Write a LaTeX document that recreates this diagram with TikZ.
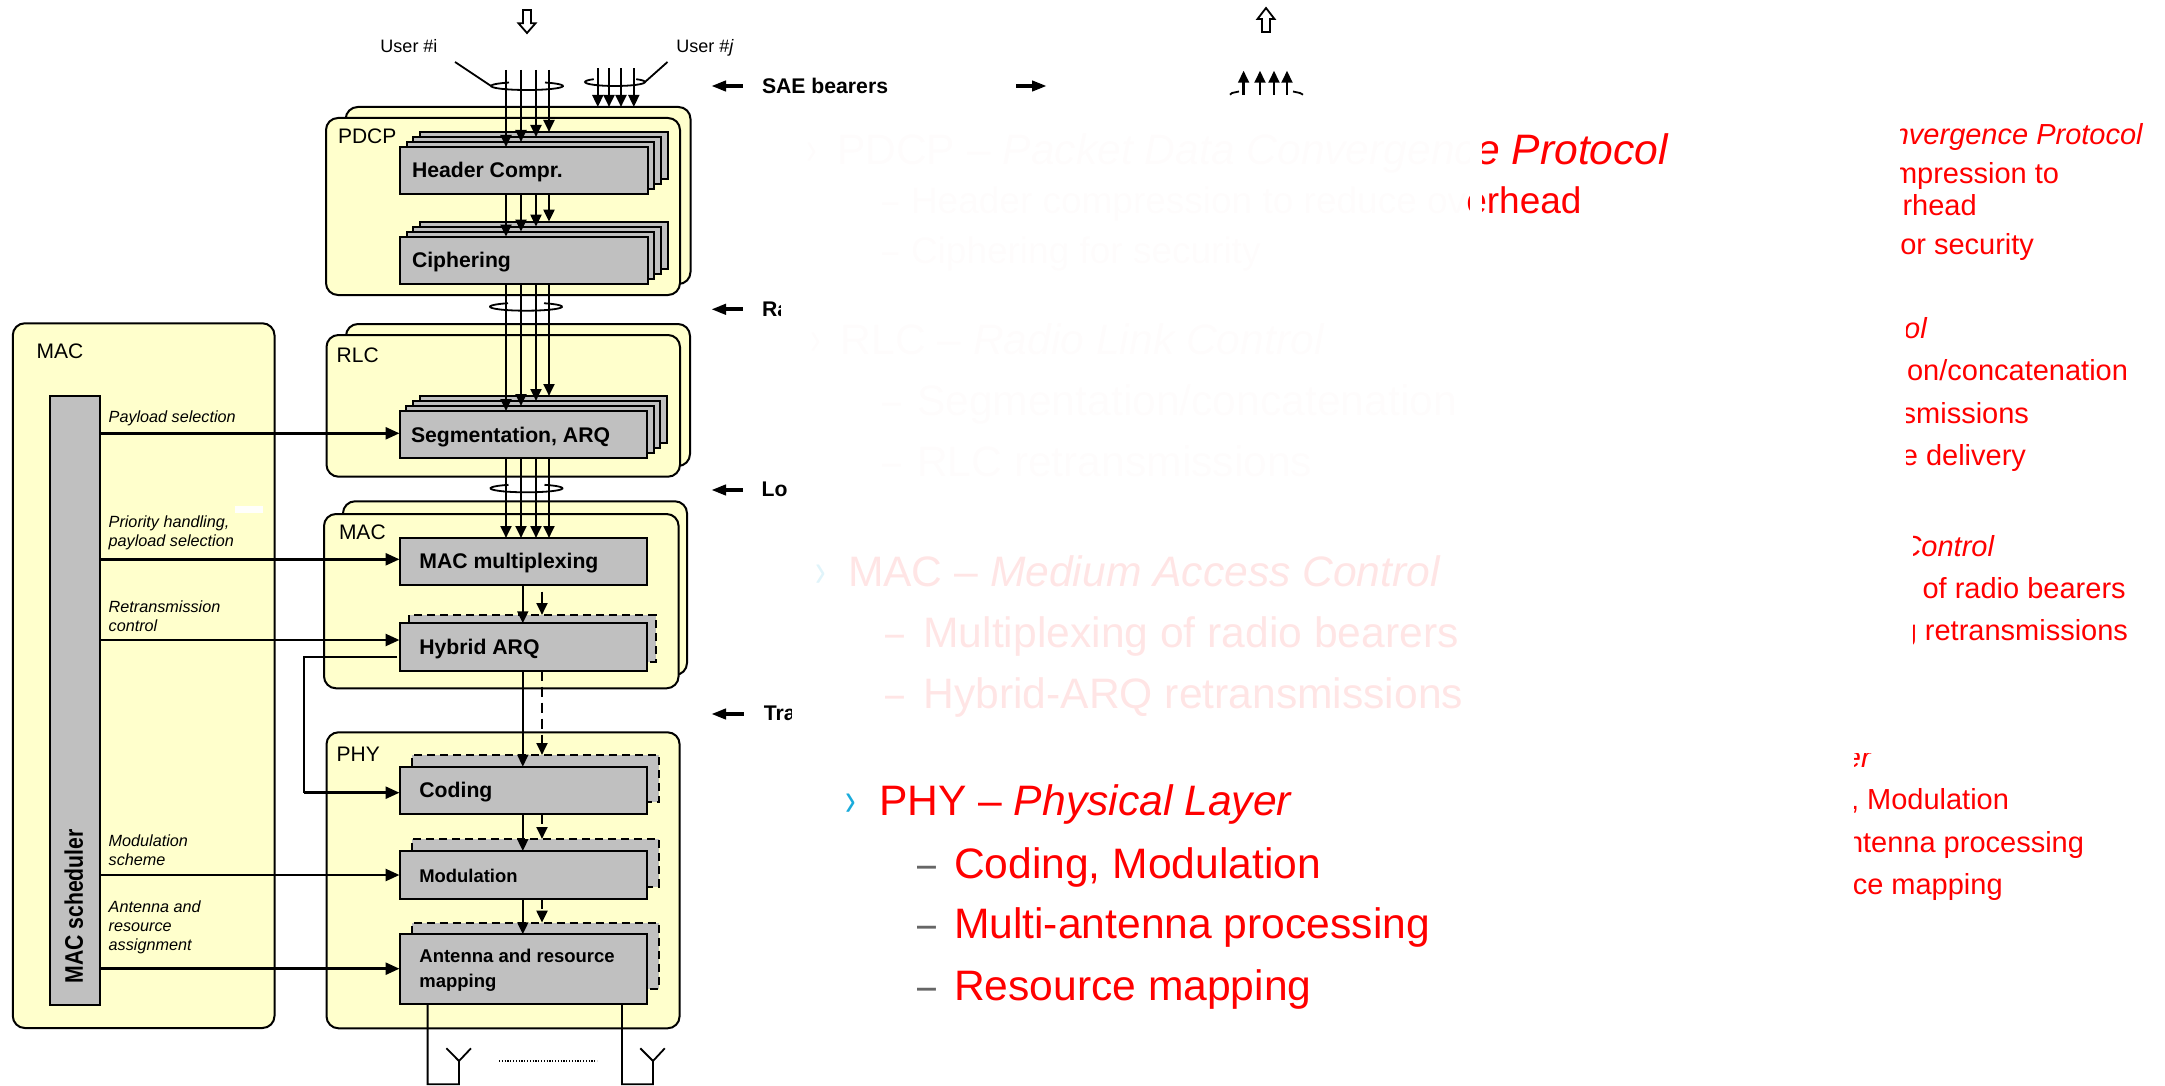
\documentclass[tikz,border=0pt]{standalone}
\usepackage{fontspec}
\usepackage{graphicx}
\setmainfont{Liberation Sans}
\usetikzlibrary{arrows.meta,shapes.geometric}
\definecolor{panelyellow}{HTML}{FFFFCC}
\definecolor{boxgray}{HTML}{C0C0C0}
\definecolor{faintA}{HTML}{FEFCFC}
\definecolor{faintB}{HTML}{FFE5E5}
\definecolor{faintC}{HTML}{E0F4FA}
\definecolor{bulletblue}{HTML}{1AABDB}
\definecolor{dashgray}{HTML}{666666}
\newcommand{\bx}[6]{%
  \pgfmathsetmacro\bxw{((#5)-(#3))*0.5}\pgfmathsetmacro\bxh{((#6)-(#4))*0.5}%
  \node[#1,minimum width=\bxw pt,minimum height=\bxh pt] (#2) at (#3,#4) {};}
\newcommand{\stackbx}[5]{%
  \bx{graybox}{#1c}{#2+20.1}{#3-15}{#4+20.1}{#5-15}
  \bx{graybox}{#1b}{#2+13.4}{#3-10}{#4+13.4}{#5-10}
  \bx{graybox}{#1a}{#2+6.7}{#3-5}{#4+6.7}{#5-5}
  \bx{graybox}{#1}{#2}{#3}{#4}{#5}}
\newcommand{\fs}[1]{\fontsize{#1}{#1}\selectfont}
\newcommand{\ringarc}[4]{% node, rx in pt, start, end
  \draw[wire] (#1.center) ++(#3:#2 and 2pt) arc[start angle=#3,end angle=#4,x radius=#2,y radius=2pt];}
\newcommand{\shortdash}{\scalebox{.8}[1]{–}}
\newcommand{\thinbullet}{\scalebox{.75}[1.1]{›}}
\tikzset{
  panel/.style={draw=black,fill=panelyellow,line width=1pt,rounded corners=6pt,anchor=north west,inner sep=0pt,outer sep=0pt},
  graybox/.style={draw=black,fill=boxgray,line width=1pt,anchor=north west,inner sep=0pt,outer sep=0pt},
  ghostfill/.style={fill=boxgray,draw=none,anchor=north west,inner sep=0pt,outer sep=0pt},
  ghostedge/.style={draw=black,line width=1pt,dash pattern=on 4pt off 2.5pt},
  flow/.style={draw=black,line width=1.2pt,-{Triangle[length=6pt,width=5.4pt]}},
  flowdash/.style={draw=black,line width=1.2pt,dash pattern=on 5pt off 3pt,-{Triangle[length=6pt,width=5.4pt]}},
  ctl/.style={draw=black,line width=1.3pt,-{Triangle[length=7pt,width=6pt]}},
  ptr/.style={draw=black,line width=2pt,-{Triangle[length=7.5pt,width=5pt]}},
  wire/.style={draw=black,line width=.9pt},
  ring/.style={ellipse,draw=none,minimum width=36pt,minimum height=4pt,inner sep=0pt,outer sep=0pt},
  hollow/.style={draw=black,line width=.9pt,fill=white,line join=miter},
  boxlabel/.style={font=\fs{10.6}\bfseries,anchor=base west,inner sep=0pt,outer sep=0pt},
  boxlabelsm/.style={font=\fs{9.2}\bfseries,anchor=base west,inner sep=0pt,outer sep=0pt},
  layerlabel/.style={font=\fs{10.5},anchor=base west,inner sep=0pt,outer sep=0pt},
  biglabel/.style={font=\fs{10.6}\bfseries,anchor=base west,inner sep=0pt,outer sep=0pt},
  sched/.style={font=\fs{8.1}\itshape,anchor=west,align=left,inner sep=0pt,outer sep=0pt},
  userlabel/.style={font=\fs{9},anchor=base,inner sep=0pt,outer sep=0pt},
  listtext/.style={font=\fs{21.3},anchor=base west,inner sep=0pt,outer sep=0pt},
  listsmall/.style={font=\fs{18.5},anchor=base west,inner sep=0pt,outer sep=0pt},
  rtext/.style={font=\fs{14.5},text=red,anchor=base east,inner sep=0pt,outer sep=0pt},
}
\begin{document}
\begin{tikzpicture}[x=0.5pt,y=-0.5pt]
\useasboundingbox (0,0) rectangle (2165,1086);

% ---- panels
\bx{panel}{macleft}{12.8}{323.3}{274.5}{1028}
\bx{panel}{pdcpback}{345.7}{107}{690.5}{284}
\bx{panel}{pdcp}{326}{118}{680}{295}
\bx{panel}{rlcback}{346}{324}{690}{466}
\bx{panel}{rlc}{326.5}{335}{680}{476.7}
\bx{panel}{macback}{343}{501.3}{687}{675}
\bx{panel}{mac}{324}{514}{678.6}{688.3}
\bx{panel}{phy}{326.5}{732.3}{679.6}{1028.3}
\fill[white!95!panelyellow] (235,505.7) rectangle (263,513);

\node[layerlabel] (lmacl) at (36.7,358.3) {MAC};
\node[layerlabel] (lpdcp) at (338,143.3) {PDCP};
\node[layerlabel] (lrlc) at (336.7,362.7) {RLC};
\node[layerlabel] (lmac) at (339,539.3) {MAC};
\node[layerlabel] (lphy) at (336.7,761.7) {PHY};

% ---- scheduler
\bx{graybox}{sch}{50}{396}{100}{1005}
\node[font=\fs{10.6}\bfseries,rotate=90,anchor=base west,inner sep=0pt] (schl) at (83,984) {\scalebox{1}[1.2]{MAC scheduler}};

% ---- stacks
\stackbx{hdr}{400}{147}{647.6}{194}
\stackbx{cip}{400}{236.7}{647.6}{283.7}
\stackbx{seg}{399.5}{411}{647}{458.3}

% ---- ghost boxes
\bx{ghostfill}{harqg}{409}{615}{655.6}{661.7}
\draw[ghostedge] (409,623) -- (409,615) -- (655.6,615) -- (655.6,661.7) -- (647,661.7);
\bx{ghostfill}{codg}{412}{755}{658.7}{802.3}
\draw[ghostedge] (412,766) -- (412,755) -- (658.7,755) -- (658.7,802.3) -- (647,802.3);
\bx{ghostfill}{modg}{412}{839}{658.7}{886.7}
\draw[ghostedge] (412,851) -- (412,839) -- (658.7,839) -- (658.7,886.7) -- (647,886.7);
\bx{ghostfill}{antg}{412}{922.7}{658.7}{989}
\draw[ghostedge] (412,934) -- (412,922.7) -- (658.7,922.7) -- (658.7,989) -- (647,989);

% ---- main boxes
\bx{graybox}{mux}{399.5}{538}{647}{585}
\bx{graybox}{harq}{399.5}{623.3}{647}{670.7}
\bx{graybox}{cod}{399.5}{766.7}{647}{814}
\bx{graybox}{modu}{399.5}{851}{647}{898.7}
\bx{graybox}{ant}{399.5}{934.3}{647}{1004}

\node[boxlabel] (thdr) at (412,177.7) {Header Compr.};
\node[boxlabel] (tcip) at (412,267) {Ciphering};
\node[boxlabel] (tseg) at (411,442.7) {Segmentation, ARQ};
\node[boxlabel] (tmux) at (419.4,568.3) {MAC multiplexing};
\node[boxlabel] (tharq) at (419.4,654.3) {Hybrid ARQ};
\node[boxlabel] (tcod) at (419.4,797.7) {Coding};
\node[boxlabelsm] (tmod) at (419.4,882.7) {Modulation};
\node[boxlabelsm,anchor=west,align=left,font=\fs{9.25}\bfseries] (tant) at (419.4,970.5) {Antenna and resource\\[3.1pt]mapping};

% ---- bearers
\coordinate (b1) at (506,70);
\coordinate (b2) at (521,70);
\coordinate (b3) at (536,70);
\coordinate (b4) at (549,70);
\draw[flow] (b1) -- (b1 |- hdr.north);
\draw[flow] (b2) -- (b2 |- hdra.north);
\draw[flow] (b3) -- (b3 |- hdrb.north);
\draw[flow] (b4) -- (b4 |- hdrc.north);
\draw[flow] (b1 |- hdr.south) -- (b1 |- cip.north);
\draw[flow] (b2 |- hdr.south) -- (b2 |- cipa.north);
\draw[flow] (b3 |- hdr.south) -- (b3 |- cipb.north);
\draw[flow] (b4 |- hdr.south) -- (b4 |- cipc.north);
\draw[flow] (b1 |- cip.south) -- (b1 |- seg.north);
\draw[flow] (b2 |- cip.south) -- (b2 |- sega.north);
\draw[flow] (b3 |- cip.south) -- (b3 |- segb.north);
\draw[flow] (b4 |- cip.south) -- (b4 |- segc.north);
\draw[flow] (b1 |- seg.south) -- (b1 |- mux.north);
\draw[flow] (b2 |- seg.south) -- (b2 |- mux.north);
\draw[flow] (b3 |- seg.south) -- (b3 |- mux.north);
\draw[flow] (b4 |- seg.south) -- (b4 |- mux.north);

\coordinate (r1) at (597.8,68.5);
\coordinate (r2) at (609,68.5);
\coordinate (r3) at (621,68.5);
\coordinate (r4) at (633.8,68.5);
\draw[flow] (r1) -- (r1 |- pdcpback.north);
\draw[flow] (r2) -- (r2 |- pdcpback.north);
\draw[flow] (r3) -- (r3 |- pdcpback.north);
\draw[flow] (r4) -- (r4 |- pdcpback.north);

\node[ring] (ringi) at (527,86) {};
\node[ring,minimum width=30pt] (ringj) at (615,82) {};
\node[ring] (ringra) at (526,306.7) {};
\node[ring] (ringlo) at (526.5,488.3) {};
\ringarc{ringi}{18pt}{120}{420}
\ringarc{ringj}{15pt}{135}{405}
\ringarc{ringra}{18pt}{120}{420}
\ringarc{ringlo}{18pt}{120}{420}

\coordinate (ui) at (455,62);
\coordinate (uj) at (667.5,62);
\draw[wire] (ui) -- (ringi.west);
\draw[wire] (uj) -- (ringj.east);
\node[userlabel] (tui) at (409,52.7) {User \#i};
\node[userlabel] (tuj) at (705,52.7) {User \#\textit{j}};

% ---- layer-to-layer arrows
\coordinate (s1) at (522.8,0);
\coordinate (s2) at (542,0);
\draw[flow] (s1 |- mux.south) -- (s1 |- harq.north);
\draw[flow] (s2 |- 0,591.7) -- (s2 |- harqg.north);
\draw[flow] (s1 |- harq.south) -- (s1 |- cod.north);
\draw[flowdash] (s2 |- harq.south) -- (s2 |- codg.north);
\draw[flow] (s1 |- cod.south) -- (s1 |- modu.north);
\draw[flowdash] (s2 |- cod.south) -- (s2 |- modg.north);
\draw[flow] (s1 |- modu.south) -- (s1 |- ant.north);
\draw[flowdash] (s2 |- modu.south) -- (s2 |- antg.north);

% ---- scheduler control
\draw[ctl] (sch.east |- 0,433.3) -- (seg.west |- 0,433.3);
\draw[ctl] (sch.east |- 0,559.3) -- (mux.west |- 0,559.3);
\draw[ctl] (sch.east |- 0,640) -- (harq.west |- 0,640);
\draw[ctl] (sch.east |- 0,875) -- (modu.west |- 0,875);
\draw[ctl] (sch.east |- 0,968.7) -- (ant.west |- 0,968.7);
\coordinate (sideA) at (397.4,656.7);
\coordinate (sideB) at (399.5,792.7);
\draw[wire] (sideA) -- (304,656.7) -- (304,792.7);
\draw[ctl] (304,792.7) -- (sideB);

\node[sched] (c1) at (108.7,418.7) {Payload selection};
\node[sched] (c2) at (108.7,532.5) {Priority handling,\\[1.55pt]payload selection};
\node[sched] (c3) at (108.7,616.5) {Retransmission\\[1.55pt]control};
\node[sched] (c4) at (108.7,850.5) {Modulation\\[1.55pt]scheme};
\node[sched] (c5) at (108.7,927.5) {Antenna and\\[1.55pt]resource\\[1.55pt]assignment};

% ---- antennas
\coordinate (a1) at (427.6,1084.3);
\coordinate (a2) at (459,1084.3);
\coordinate (a3) at (459,1061);
\coordinate (a4) at (622,1084.3);
\coordinate (a5) at (653,1084.3);
\coordinate (a6) at (653,1061);
\draw[wire] (a1 |- ant.south) -- (a1) -- (a2) -- (a3) -- (446.4,1048.3);
\draw[wire] (a3) -- (471,1048.3);
\draw[wire] (a4 |- ant.south) -- (a4) -- (a5) -- (a6) -- (640.3,1048.3);
\draw[wire] (a6) -- (664.8,1048.3);
\draw[line width=1.3pt,dash pattern=on .6pt off .8pt] (499,1061) -- (597,1061);

% ---- hollow arrows
\draw[hollow] (523,10) -- (531,10) -- (531,23.3) -- (535.5,23.3) -- (527,33) -- (518.5,23.3) -- (523,23.3) -- cycle;
\draw[hollow] (1262,32) -- (1270,32) -- (1270,19) -- (1274.5,19) -- (1266,8) -- (1257.5,19) -- (1262,19) -- cycle;

% ---- channel labels
\coordinate (p1) at (742.6,86);
\coordinate (p1t) at (711,86);
\draw[ptr] (p1) -- (p1t);
\coordinate (p2) at (1016,86);
\coordinate (p2t) at (1047,86);
\draw[ptr] (p2) -- (p2t);
\coordinate (p3) at (742.6,309.3);
\coordinate (p3t) at (711,309.3);
\draw[ptr] (p3) -- (p3t);
\coordinate (p4) at (742.6,490);
\coordinate (p4t) at (711,490);
\draw[ptr] (p4) -- (p4t);
\coordinate (p5) at (743.5,714);
\coordinate (p5t) at (711,714);
\draw[ptr] (p5) -- (p5t);
\node[biglabel] (tsae) at (762,93.3) {SAE bearers};
\begin{scope}
\clip (750,290) rectangle (780,330);
\node[biglabel] (tra) at (762,316) {Ra};
\end{scope}
\begin{scope}
\clip (750,470) rectangle (786,510);
\node[biglabel] (tlo) at (761.7,496.7) {Lo};
\end{scope}
\begin{scope}
\clip (750,695) rectangle (791,735);
\node[biglabel] (ttr) at (763.8,720.7) {Tra};
\end{scope}

% ---- up-going bearers (cut off)
\coordinate (u1) at (1243.6,70.7);
\coordinate (u2) at (1260,70.7);
\coordinate (u3) at (1274,70.7);
\coordinate (u4) at (1287,70.7);
\draw[flow] (u1 |- 0,94.7) -- (u1);
\draw[flow] (u2 |- 0,94.7) -- (u2);
\draw[flow] (u3 |- 0,94.7) -- (u3);
\draw[flow] (u4 |- 0,94.7) -- (u4);
\draw[wire] (1230,94.7) -- (1232,93) -- (1239,91.5);
\draw[wire] (1303,94.7) -- (1300,93) -- (1293,91.5);

% ---- faded list, left
\node[listtext,text=faintA] (bpdcp) at (806,164.3) {\thinbullet};
\node[listtext] (lp) at (837,164.3) {{\color{faintA}PDCP – \itshape Packet Data Convergenc}{\color{red}\itshape e Protocol}};
\node[listsmall,text=faintA] (dp1) at (882,213.3) {\shortdash};
\node[listsmall] (lp1) at (911,213.3) {{\color{faintA}Header compression to reduce ov}{\color{red}erhead}};
\node[listsmall,text=faintA] (dp2) at (882,263.3) {\shortdash};
\node[listsmall,text=faintA] (lp2) at (911,263.3) {Ciphering for security};
\fill[white] (1470,125) rectangle (1481.5,172);
\fill[white] (1470,178) rectangle (1481.5,225);
\node[listtext,text=faintA] (brlc) at (810,354) {\thinbullet};
\node[listtext,text=faintA] (lr) at (840.6,354) {RLC – \itshape Radio Link Control};
\node[listtext,text=faintA] (dr1) at (882,415) {\shortdash};
\node[listtext,text=faintA] (lr1) at (917,415) {Segmentation/concatenation};
\node[listtext,text=faintA] (dr2) at (882,476.7) {\shortdash};
\node[listtext,text=faintA] (lr2) at (917,476.7) {RLC retransmissions};
\node[listtext,text=faintC] (bmac) at (815,586) {\thinbullet};
\node[listtext,text=faintB] (lm) at (848,586) {MAC – \itshape Medium Access Control};
\node[listtext,text=faintB] (dm1) at (885,647.3) {\shortdash};
\node[listtext,text=faintB] (lm1) at (923.5,647.3) {Multiplexing of radio bearers};
\node[listtext,text=faintB] (dm2) at (885,708.3) {\shortdash};
\node[listtext,text=faintB] (lm2) at (923.5,708.3) {Hybrid-ARQ retransmissions};
\node[listtext,text=bulletblue] (bphy) at (845,815) {\thinbullet};
\node[listtext,text=red] (lf) at (879,815) {PHY – \itshape Physical Layer};
\node[listtext,text=dashgray] (df1) at (917,878) {\shortdash};
\node[listtext,text=red] (lf1) at (954,878) {Coding, Modulation};
\node[listtext,text=dashgray] (df2) at (917,938.5) {\shortdash};
\node[listtext,text=red] (lf2) at (954,938.5) {Multi-antenna processing};
\node[listtext,text=dashgray] (df3) at (917,1000) {\shortdash};
\node[listtext,text=red] (lf3) at (954,1000) {Resource mapping};

% ---- list, right (cut off)
\begin{scope}
\clip (1900.7,100) rectangle (2165,300);
\node[rtext,font=\fs{14.5}\itshape] (x1) at (2142.7,144.3) {nvergence Protocol};
\node[rtext] (x2) at (2059,183.7) {mpression to};
\node[rtext] (x3) at (1976.7,215) {rhead};
\node[rtext] (x4) at (2034,255) {or security};
\end{scope}
\begin{scope}
\clip (1906.7,300) rectangle (2165,500);
\node[rtext,font=\fs{14.5}\itshape] (y1) at (1926.7,338.3) {ol};
\node[rtext] (y2) at (2128,380.3) {on/concatenation};
\node[rtext] (y3) at (2029,423.7) {smissions};
\node[rtext] (y4) at (2026,465.3) {e delivery};
\end{scope}
\begin{scope}
\clip (1913,510) rectangle (2165,660);
\node[rtext,font=\fs{14.5}\itshape] (z1) at (1994,556.7) {Control};
\node[rtext] (z2) at (2125.7,598.7) {of radio bearers};
\node[rtext] (z3) at (2128,640.3) {g retransmissions};
\end{scope}
\begin{scope}
\clip (1854,753) rectangle (2165,910);
\node[rtext,font=\fs{14.5}\itshape] (w1) at (1870.7,767) {er};
\node[rtext] (w2) at (2009,809.3) {, Modulation};
\node[rtext] (w3) at (2084,852.7) {ntenna processing};
\node[rtext] (w4) at (2002.7,894.3) {ce mapping};
\end{scope}
\end{tikzpicture}
\end{document}
